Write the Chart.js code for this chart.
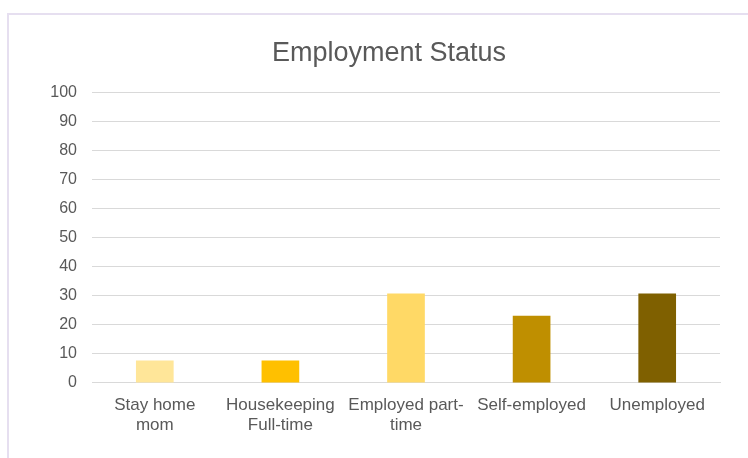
<!DOCTYPE html>
<html>
<head>
<meta charset="utf-8">
<script src="https://cdn.jsdelivr.net/npm/chart.js@4.4.1/dist/chart.umd.min.js"></script>
<style>
  html, body { margin: 0; padding: 0; background: #fff; }
  .wrap { position: relative; width: 748px; height: 458px; overflow: hidden; }
  .frame {
    position: absolute; left: 7px; top: 13px; width: 800px; height: 500px;
    border: 2px solid #e6dff0; box-sizing: border-box;
  }
  canvas { position: absolute; left: 0; top: 0; }
</style>
</head>
<body>
<div class="wrap">
  <div class="frame"></div>
  <canvas id="chart" width="748" height="458"></canvas>
</div>
<script>
const categories = [
    ['Stay home', 'mom'],
    ['Housekeeping', 'Full-time'],
    ['Employed part-', 'time'],
    'Self-employed',
    'Unemployed'
]
const percentages = [7.7, 7.7, 30.8, 23.1, 30.8]
const bar_colors = ['#ffe699', '#ffc000', '#ffd966', '#bf8f00', '#7f6000']
const y_ticks = [0, 10, 20, 30, 40, 50, 60, 70, 80, 90, 100]

const text_color = '#595959'
const grid_color = '#d9d9d9'
const font_family = '"Liberation Sans", Arial, sans-serif'

// the title sits centred over the whole frame, which runs on past the right edge
const title_box_left = 58
const shiftTitle = {
    id: 'shiftTitle',
    afterLayout(chart) {
        if (chart.titleBlock) {
            chart.titleBlock.left = title_box_left
        }
    }
}

const config = {
    type: 'bar',
    data: {
        labels: categories,
        datasets: [{
            label: 'Employment Status',
            data: percentages,
            backgroundColor: bar_colors,
            borderWidth: 0,
            barPercentage: 0.3,
            categoryPercentage: 1
        }]
    },
    options: {
        responsive: false,
        animation: false,
        layout: {
            padding: {left: 0, right: 28, top: 0, bottom: 10}
        },
        plugins: {
            legend: {display: false},
            tooltip: {enabled: false},
            title: {
                display: true,
                text: 'Employment Status',
                color: text_color,
                font: {family: font_family, size: 27, weight: 'normal'},
                padding: {top: 37, bottom: 23}
            }
        },
        scales: {
            x: {
                grid: {display: false, drawTicks: false},
                border: {display: true, color: grid_color, width: 1},
                ticks: {
                    color: text_color,
                    font: {family: font_family, size: 17, lineHeight: 1.15},
                    padding: 13,
                    maxRotation: 0,
                    autoSkip: false
                }
            },
            y: {
                min: 0,
                max: 100,
                afterFit: (scale) => { scale.width = 92 },
                afterBuildTicks: (scale) => {
                    scale.ticks = y_ticks.map(v => ({value: v}))
                },
                grid: {color: grid_color, lineWidth: 1, drawTicks: false},
                border: {display: false},
                ticks: {
                    color: text_color,
                    font: {family: font_family, size: 16},
                    padding: 15
                }
            }
        }
    },
    plugins: [shiftTitle]
}

new Chart(document.getElementById('chart'), config)
</script>
</body>
</html>
